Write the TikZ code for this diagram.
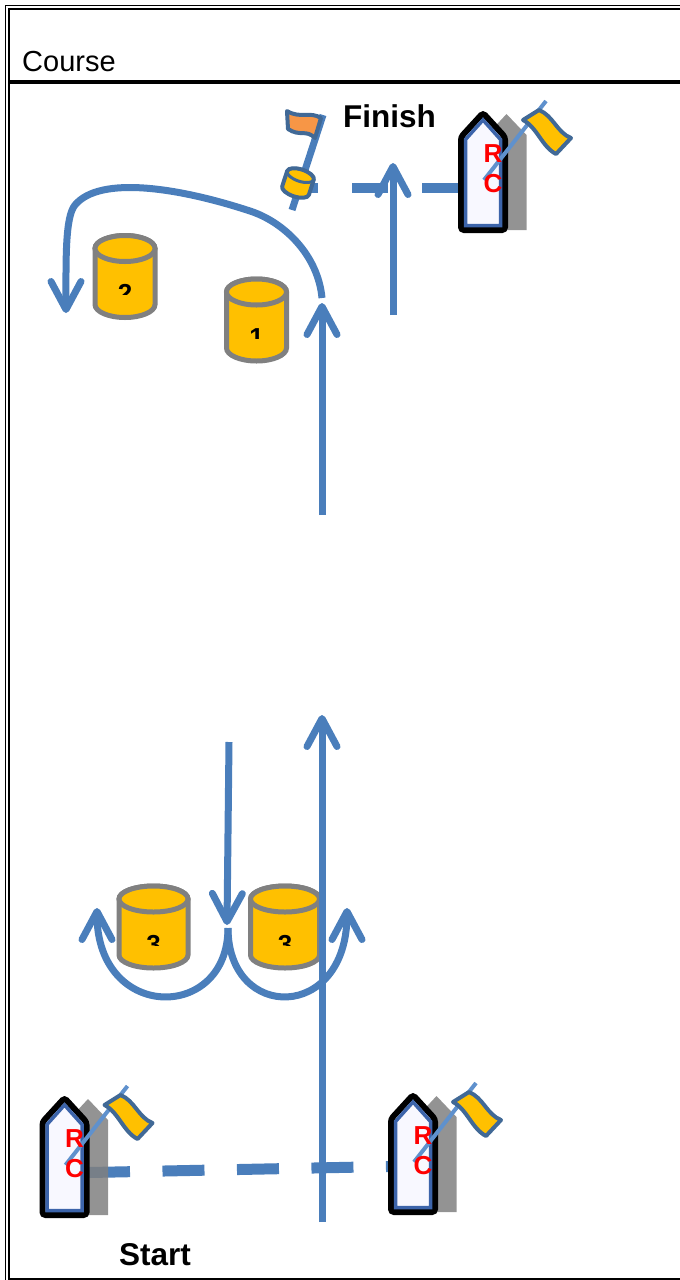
\documentclass[tikz,border=0pt]{standalone}
\usepackage{fontspec}
\setmainfont{Liberation Sans}
\usetikzlibrary{arrows.meta, positioning}

\definecolor{routeblue}{RGB}{74,126,187}
\definecolor{buoyyellow}{RGB}{255,192,0}
\definecolor{buoygray}{RGB}{128,128,128}
\definecolor{boatblue}{RGB}{60,100,170}
\definecolor{boatfill}{RGB}{248,248,255}
\definecolor{flagline}{RGB}{65,105,150}
\definecolor{poleblue}{RGB}{95,145,205}
\definecolor{pinorange}{RGB}{247,150,70}
\definecolor{shadowgray}{RGB}{128,128,128}

\begin{document}
\begin{tikzpicture}[
    x=1pt, y=-1pt,
    route/.style={draw=routeblue, line width=7pt, -{Straight Barb[length=28pt, width=30pt, round]}},
    startline/.style={draw=routeblue, line width=11pt, dash pattern=on 42pt off 32.5pt, dash phase=51pt},
    finishline/.style={draw=routeblue, line width=10pt, dash pattern=on 36pt off 34pt, dash phase=16pt},
    marktext/.style={font=\fontsize{31.5}{34}\selectfont\bfseries, inner sep=0pt},
    rctext/.style={font=\fontsize{26}{27}\selectfont\bfseries, text=red, inner sep=0pt},
    buoytext/.style={font=\fontsize{26}{28}\selectfont\bfseries, inner sep=0pt, anchor=base},
    buoyshape/.style={draw=buoygray, fill=buoyyellow, line width=5pt},
    flagshape/.style={draw=flagline, line width=4pt, line join=round},
    buoy/.pic={
      \filldraw[buoyshape] (-30,-28) -- (-30,28) arc[start angle=180, end angle=0, x radius=30, y radius=13]
        -- (30,-28) arc[start angle=0, end angle=-180, x radius=30, y radius=13] -- cycle;
      \filldraw[buoyshape] (0,-28) ellipse[x radius=30, y radius=13];
      \begin{scope}
        \clip (-30,-20) rectangle (30,18);
        \node[buoytext] (-num) at (0,26) {#1};
      \end{scope}
    },
    boat/.pic={
      \fill[shadowgray, fill opacity=0.85] (4,25) -- (23.5,4) -- (43.5,25) -- (43.5,120) -- (4,120) -- cycle;
      \filldraw[draw=black, fill=boatfill, line width=6pt, rounded corners=3pt]
        (-22,27) -- (0,3) -- (22,27) -- (22,120) -- (-22,120) -- cycle;
      \draw[boatblue, line width=3.5pt] (-17.5,29.5) -- (0,10) -- (17.5,29.5) -- (17.5,115.5) -- (-17.5,115.5) -- cycle;
      \draw[poleblue, line width=4pt] (1,70) -- (63,-9);
      \node[rctext] (-r) at (10,44) {R};
      \node[rctext] (-c) at (10,74) {C};
      \filldraw[flagshape, fill=buoyyellow] (40,10) -- (56,0) .. controls (70,5.5) and (74,22.6) .. (88,28)
        -- (73,44) .. controls (58.7,36.5) and (54.3,17.5) .. cycle;
      \coordinate (-gate) at (0,78);
    }
  ]
  \useasboundingbox (0,0) rectangle (680,1280);

  % frame
  \draw[line width=1.5pt] (680,5.5) -- (5.5,5.5) -- (5.5,1280);
  \draw[line width=2.5pt] (680,9) -- (9,9) -- (9,1280);
  \draw[line width=2pt] (9,1279) -- (680,1279);
  \draw[line width=4pt] (9,81.5) -- (680,81.5);
  \node[font=\fontsize{29}{30}\selectfont, inner sep=0pt, anchor=base west] (title) at (22,71) {Course};

  % marks
  \pic (b2) at (125,276.5) {buoy=2};
  \pic (b1) at (256.5,320) {buoy=1};
  \pic[xscale=1.15] (b3l) at (153.5,927) {buoy=3};
  \pic[xscale=1.15] (b3r) at (285,927) {buoy=3};

  % start and finish
  \coordinate (sl-gate) at (64.5,1173);
  \coordinate (sr-gate) at (413,1166);
  \coordinate (pin) at (298,188);
  \coordinate (fin-gate) at (483,188);
  \draw[startline] (sl-gate) -- (sr-gate);
  \draw[finishline] (pin) -- (fin-gate);
  \pic (sl) at (64.5,1095) {boat};
  \pic (sr) at (413,1092) {boat};
  \pic (fin) at (483,110) {boat};

  \draw[routeblue, line width=7pt] (292,210) -- (323,115);
  \filldraw[flagshape, fill=pinorange] (321,118) .. controls (310,111) and (300,119) .. (287,111)
    -- (288,129) .. controls (300,137) and (306,129) .. (315,138) -- cycle;
  \begin{scope}[rotate around={-18:(298,183)}]
    \filldraw[flagshape, fill=buoyyellow] (284,175) -- (284,191) arc[start angle=180, end angle=0, x radius=14, y radius=6]
      -- (312,175) arc[start angle=0, end angle=-180, x radius=14, y radius=6] -- cycle;
    \draw[flagline, line width=3pt] (298,175) ellipse[x radius=14, y radius=6];
  \end{scope}

  \node[marktext, anchor=base west] (finish) at (343,127) {Finish};
  \node[marktext, anchor=base west] (start) at (119,1265) {Start};

  % course
  \coordinate (launch) at (322,1222);
  \coordinate (upwind) at (322,715);
  \coordinate (beat) at (322,515);
  \coordinate (mark1) at (322,303);
  \coordinate (round1) at (322,298);
  \coordinate (mark2) at (66,313);
  \coordinate (run) at (229,742);
  \coordinate (gate) at (227,925);
  \coordinate (gatemid) at (228,928);
  \coordinate (gateL) at (97,908);
  \coordinate (gateR) at (347,908);
  \coordinate (home) at (393,315);
  \coordinate (line) at (393,163);

  \draw[route] (launch) -- (upwind);
  \draw[route] (beat) -- (mark1);
  \draw[route] (round1) .. controls (318,255) and (284,222) .. (250,211)
    .. controls (180,188) and (100,175) .. (75,205)
    .. controls (65,217) and (66,260) .. (mark2);
  \draw[route] (run) -- (gate);
  \draw[route] (gatemid) .. controls (228,1022) and (97,1022) .. (gateL);
  \draw[route] (gatemid) .. controls (228,1022) and (347,1022) .. (gateR);
  \draw[route] (home) -- (line);

\end{tikzpicture}
\end{document}
